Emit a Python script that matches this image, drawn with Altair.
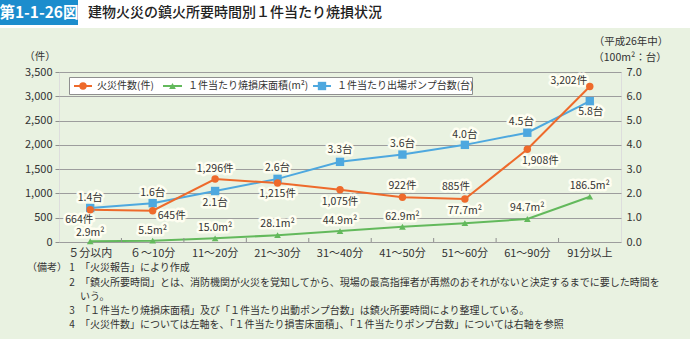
import altair as alt
import pandas as pd

# ---------------- data ----------------
categories = ["５分以内", "６～10分", "11～20分", "21～30分", "31～40分",
              "41～50分", "51～60分", "61～90分", "91分以上"]
fires = [664, 645, 1296, 1215, 1075, 922, 885, 1908, 3202]          # 件 (left axis)
area_m2 = [2.9, 5.5, 15.0, 28.1, 44.9, 62.9, 77.7, 94.7, 186.5]     # m² (right axis, in 100m²)
pumps = [1.4, 1.6, 2.1, 2.6, 3.3, 3.6, 4.0, 4.5, 5.8]               # 台 (right axis)

# label placement keywords (style, mapped to offsets below)
fire_pos = ["bl", "br", "a", "b", "b2", "a2", "al", "br2", "al2"]
area_pos = ["a0", "a", "a", "a2", "a", "a", "a3", "a2", "a2"]
pump_pos = ["a", "a", "b2", "a2", "a3", "a2", "a", "al3", "br3"]

left_ticks = [0, 500, 1000, 1500, 2000, 2500, 3000, 3500]
right_ticks = [0, 1, 2, 3, 4, 5, 6, 7]

legend_names = ["火災件数(件)", "１件当たり焼損床面積(m²)", "１件当たり出場ポンプ台数(台)"]
title_badge = "第1-1-26図"
title_text = "建物火災の鎮火所要時間別１件当たり焼損状況"
left_unit = "（件）"
right_unit1 = "（平成26年中）"
right_unit2 = "（100m²：台）"
note_head = "（備考）"
note_nums = ["1", "2", "", "3", "4"]
note_lines = [
    "「火災報告」により作成",
    "「鎮火所要時間」とは、消防機関が火災を覚知してから、現場の最高指揮者が再燃のおそれがないと決定するまでに要した時間を",
    "いう。",
    "「１件当たり焼損床面積」及び「１件当たり出動ポンプ台数」は鎮火所要時間により整理している。",
    "「火災件数」については左軸を、「１件当たり損害床面積」、「１件当たりポンプ台数」については右軸を参照",
]

# ---------------- style ----------------
ORANGE = "#ee6a2b"
GREEN = "#63b95c"
BLUE = "#4ea8df"
CREAM = "#fefef1"
GREENBG = "#e9f2e1"
TEXT = "#333333"
GRID = "#9d9d9d"
FONT = "Noto Sans CJK JP"
LABEL_SIZE = 10.5

OFFSETS = {
    "a0": (0, -8.5), "a": (0, -10), "a2": (0, -11), "a3": (0, -12),
    "b": (0, 11), "b2": (0, 12),
    "bl": (-11, 10.5), "br": (19, 5), "br2": (13, 12), "br3": (1, 11),
    "al": (-9, -12), "al2": (-21, -5), "al3": (-6, -11),
}

df = pd.DataFrame({
    "cat": categories,
    "fires": fires,
    "fire_label": [f"{v:,}件" for v in fires],
    "fire_pos": fire_pos,
    "area": [v / 100 for v in area_m2],
    "area_label": [f"{v}m²" for v in area_m2],
    "area_pos": area_pos,
    "pump": pumps,
    "pump_label": [f"{v}台" for v in pumps],
    "pump_pos": pump_pos,
})

xscale = alt.Scale(type="band", paddingInner=0, paddingOuter=0)
xaxis = alt.Axis(title=None, labelAngle=0, tickSize=0, domain=False, grid=False, bandPosition=0.5,
                 labelAlign="center", labelPadding=5, labelFontSize=11, labelColor=TEXT)
xenc = alt.X("cat:N", sort=categories, scale=xscale, axis=xaxis)
base = alt.Chart(df).encode(x=xenc)


def yq(field, dom, axis=None):
    return alt.Y(f"{field}:Q", scale=alt.Scale(domain=dom, nice=False, zero=True), axis=axis)


left_axis = alt.Axis(values=left_ticks, format=",.0f", grid=True, gridColor=GRID, gridWidth=1,
                     tickSize=4, tickColor="#8f8f8f", domain=False, labelFontSize=11,
                     labelColor=TEXT, labelPadding=3, title=None)
right_axis = alt.Axis(values=right_ticks, format=".1f", orient="right", grid=False, tickSize=0,
                      domain=False, labelFontSize=11, labelColor=TEXT, labelPadding=5, title=None)

one = pd.DataFrame({"k": [0]})


def deco():
    return alt.Chart(one)


layers = []

# title strip + badge
layers.append(deco().mark_rect(color="white").encode(
    x=alt.value(-59), x2=alt.value(631), y=alt.value(-72), y2=alt.value(-44)))
layers.append(deco().mark_rect(color="#1c8dcd").encode(
    x=alt.value(-59), x2=alt.value(19), y=alt.value(-72), y2=alt.value(-47)))

series = [
    ("fires", "fire_label", "fire_pos", [0, 3500], fire_pos),
    ("area", "area_label", "area_pos", [0, 7], area_pos),
    ("pump", "pump_label", "pump_pos", [0, 7], pump_pos),
]

# halos behind labels
for field, lab, pos, dom, plist in series:
    for p in sorted(set(plist)):
        dx, dy = OFFSETS[p]
        layers.append(base.transform_filter(alt.datum[pos] == p).mark_text(
            dx=dx, dy=dy, fontSize=LABEL_SIZE, color=CREAM, stroke=CREAM, strokeWidth=5,
            strokeJoin="round").encode(y=yq(field, dom), text=f"{lab}:N"))

# lines
layers.append(base.mark_line(color=GREEN, strokeWidth=2).encode(y=yq("area", [0, 7])))
layers.append(base.mark_line(color=BLUE, strokeWidth=2).encode(y=yq("pump", [0, 7], right_axis)))
layers.append(base.mark_line(color=ORANGE, strokeWidth=2).encode(y=yq("fires", [0, 3500], left_axis)))

# points
layers.append(base.mark_point(shape="triangle-up", filled=True, size=45, opacity=1, color=GREEN)
              .encode(y=yq("area", [0, 7])))
layers.append(base.mark_point(shape="square", filled=True, size=70, opacity=1, color=BLUE)
              .encode(y=yq("pump", [0, 7])))
layers.append(base.mark_point(shape="circle", filled=True, size=55, opacity=1, color=ORANGE)
              .encode(y=yq("fires", [0, 3500])))

# labels
for field, lab, pos, dom, plist in series:
    for p in sorted(set(plist)):
        dx, dy = OFFSETS[p]
        layers.append(base.transform_filter(alt.datum[pos] == p).mark_text(
            dx=dx, dy=dy, fontSize=LABEL_SIZE, color=TEXT).encode(y=yq(field, dom), text=f"{lab}:N"))

# small inner ticks at band boundaries
layers.append(alt.Chart(df).transform_filter(alt.datum.cat != categories[0]).mark_rule(
    color="#8f8f8f", strokeWidth=1).encode(
    x=alt.X("cat:N", sort=categories, scale=xscale, bandPosition=0, axis=xaxis),
    y=alt.value(166), y2=alt.value(170)))

# legend (drawn)
layers.append(deco().mark_rect(fill="white", stroke="#8f8f8f", strokeWidth=1).encode(
    x=alt.value(10.5), x2=alt.value(413.5), y=alt.value(5.5), y2=alt.value(22.5)))
leg = [
    (ORANGE, "circle", 55, 15, 33, 38, legend_names[0]),
    (GREEN, "triangle-up", 45, 104, 123, 129, legend_names[1]),
    (BLUE, "square", 70, 254, 272, 278, legend_names[2]),
]
for col, shp, sz, x1, x2, xt, name in leg:
    layers.append(deco().mark_rule(color=col, strokeWidth=2).encode(
        x=alt.value(x1), x2=alt.value(x2), y=alt.value(14)))
    layers.append(deco().mark_point(shape=shp, filled=True, size=sz, opacity=1, color=col).encode(
        x=alt.value((x1 + x2) / 2), y=alt.value(14)))
    layers.append(deco().mark_text(align="left", baseline="middle", fontSize=10, color=TEXT).encode(
        x=alt.value(xt), y=alt.value(14), text=alt.value(name)))

# titles and units
layers.append(deco().mark_text(align="center", baseline="middle", fontSize=15.5, fontWeight="bold",
                                color="white").encode(
    x=alt.value(-20), y=alt.value(-59.5), text=alt.value(title_badge)))
layers.append(deco().mark_text(align="left", baseline="middle", fontSize=14, fontWeight=500,
                                color="#222222").encode(
    x=alt.value(29), y=alt.value(-59), text=alt.value(title_text)))
layers.append(deco().mark_text(align="center", baseline="middle", fontSize=10.5, color=TEXT).encode(
    x=alt.value(-19), y=alt.value(-15), text=alt.value(left_unit)))
layers.append(deco().mark_text(align="center", baseline="middle", fontSize=10.5, color=TEXT).encode(
    x=alt.value(572), y=alt.value(-30), text=alt.value(right_unit1)))
layers.append(deco().mark_text(align="center", baseline="middle", fontSize=10.5, color=TEXT).encode(
    x=alt.value(571), y=alt.value(-14), text=alt.value(right_unit2)))

# notes
note_y = [196, 211, 225, 239, 253]
layers.append(deco().mark_text(align="left", baseline="middle", fontSize=10, color=TEXT).encode(
    x=alt.value(-32), y=alt.value(note_y[0]), text=alt.value(note_head)))
for num, line, yy in zip(note_nums, note_lines, note_y):
    if num:
        layers.append(deco().mark_text(align="center", baseline="middle", fontSize=10, color=TEXT).encode(
            x=alt.value(13), y=alt.value(yy), text=alt.value(num)))
    layers.append(deco().mark_text(align="left", baseline="middle", fontSize=10, color=TEXT).encode(
        x=alt.value(21), y=alt.value(yy), text=alt.value(line)))

chart = alt.layer(*layers).resolve_scale(y="independent").properties(
    width=562, height=170,
    padding={"left": 59, "top": 72, "right": 69, "bottom": 97},
    autosize=alt.AutoSizeParams(type="none"),
    background=GREENBG,
).configure_view(fill=CREAM, stroke="#8f8f8f", strokeWidth=1).configure(font=FONT)

chart.save("out.html", embed_options={"renderer": "svg", "actions": False})
